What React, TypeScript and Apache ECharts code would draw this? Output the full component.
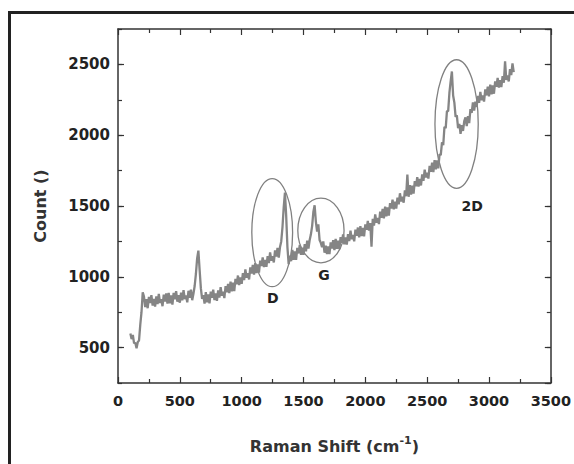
import { useEffect, useRef } from "react";
import * as echarts from "echarts";

const FONT = '"DejaVu Sans", "Liberation Sans", sans-serif';
const INK = "#222";

const xMin = 0;
const xMax = 3500;
const xInterval = 500;
const yMin = 250;
const yMax = 2750;
const yMajor = 500;
const yMinor = 250;

// Raman spectrum: [shift (cm-1), count]
const spectrum: [number, number][] = [
  [100, 600], [110, 560], [120, 590], [130, 530], [140, 535], [150, 495], [160, 540], [170, 550], [180, 660], [190, 750], [200, 890],
  [210, 860], [220, 786], [230, 842], [240, 778], [250, 859], [260, 815], [270, 871], [280, 797], [290, 843], [300, 790],
  [310, 861], [320, 807], [330, 879], [340, 815], [350, 841], [360, 792], [370, 874], [380, 825], [390, 882], [400, 810],
  [410, 886], [420, 812], [430, 868], [440, 804], [450, 886], [460, 842], [470, 898], [480, 824], [490, 871], [500, 817],
  [510, 888], [520, 834], [530, 906], [540, 842], [550, 868], [560, 820], [570, 901], [580, 852], [590, 909], [600, 835],
  [610, 880], [620, 935], [630, 1020], [640, 1130], [650, 1185], [660, 1050], [670, 920], [680, 845], [690, 870],
  [700, 810], [710, 892], [720, 819], [730, 876], [740, 813], [750, 895], [760, 852], [770, 909], [780, 836], [790, 883],
  [800, 830], [810, 904], [820, 853], [830, 927], [840, 866], [850, 895], [860, 850], [870, 935], [880, 890], [890, 950],
  [900, 885], [910, 966], [920, 897], [930, 958], [940, 899], [950, 985], [960, 947], [970, 1009], [980, 941], [990, 995],
  [1000, 950], [1010, 1026], [1020, 977], [1030, 1053], [1040, 994], [1050, 1025], [1060, 981], [1070, 1067], [1080, 1023], [1090, 1084],
  [1100, 1015], [1110, 1096], [1120, 1027], [1130, 1088], [1140, 1029], [1150, 1115], [1160, 1076], [1170, 1137], [1180, 1068], [1190, 1119],
  [1200, 1070], [1210, 1146], [1220, 1097], [1230, 1173], [1240, 1114], [1250, 1145], [1260, 1101], [1270, 1187], [1280, 1143], [1290, 1204],
  [1300, 1135], [1310, 1210], [1320, 1250], [1330, 1350], [1340, 1490], [1350, 1595], [1360, 1430], [1370, 1210], [1380, 1090], [1390, 1150],
  [1400, 1110], [1410, 1190], [1420, 1120], [1430, 1180], [1440, 1120], [1450, 1205], [1460, 1165], [1470, 1225], [1480, 1155], [1490, 1205],
  [1500, 1155], [1510, 1230], [1520, 1180], [1530, 1255], [1540, 1200], [1550, 1260], [1560, 1300], [1570, 1360], [1580, 1460], [1590, 1505],
  [1600, 1390], [1610, 1320], [1620, 1370], [1630, 1260], [1640, 1240], [1650, 1210], [1660, 1250], [1670, 1170], [1680, 1220], [1690, 1160],
  [1700, 1215], [1710, 1160], [1720, 1244], [1730, 1199], [1740, 1258], [1750, 1188], [1760, 1267], [1770, 1197], [1780, 1256], [1790, 1196],
  [1800, 1280], [1810, 1240], [1820, 1299], [1830, 1229], [1840, 1278], [1850, 1228], [1860, 1302], [1870, 1252], [1880, 1326], [1890, 1266],
  [1900, 1295], [1910, 1250], [1920, 1334], [1930, 1289], [1940, 1348], [1950, 1278], [1960, 1357], [1970, 1287], [1980, 1346], [1990, 1286],
  [2000, 1370], [2010, 1332], [2020, 1394], [2030, 1327], [2040, 1379], [2050, 1212], [2060, 1410], [2070, 1362], [2080, 1440], [2090, 1382],
  [2100, 1415], [2110, 1372], [2120, 1460], [2130, 1417], [2140, 1480], [2150, 1412], [2160, 1495], [2170, 1427], [2180, 1490], [2190, 1432],
  [2200, 1520], [2210, 1482], [2220, 1545], [2230, 1477], [2240, 1530], [2250, 1482], [2260, 1560], [2270, 1512], [2280, 1590], [2290, 1532],
  [2300, 1565], [2310, 1523], [2320, 1611], [2330, 1569], [2340, 1722], [2350, 1565], [2360, 1648], [2370, 1581], [2380, 1644], [2390, 1587],
  [2400, 1675], [2410, 1639], [2420, 1703], [2430, 1637], [2440, 1691], [2450, 1645], [2460, 1724], [2470, 1678], [2480, 1757], [2490, 1701],
  [2500, 1735], [2510, 1694], [2520, 1783], [2530, 1742], [2540, 1806], [2550, 1740], [2560, 1824], [2570, 1758], [2580, 1822], [2590, 1766],
  [2600, 1865], [2610, 1860], [2620, 1950], [2630, 1930], [2640, 2060], [2650, 2050], [2660, 2170], [2670, 2170], [2680, 2300], [2690, 2380],
  [2700, 2450], [2710, 2280], [2720, 2230], [2730, 2130], [2740, 2140], [2750, 2050], [2760, 2080], [2770, 2010], [2780, 2070], [2790, 2030],
  [2800, 2100], [2810, 2125], [2820, 2065], [2830, 2135], [2840, 2085], [2850, 2185], [2860, 2158], [2870, 2231], [2880, 2174], [2890, 2237],
  [2900, 2200], [2910, 2277], [2920, 2229], [2930, 2306], [2940, 2248], [2950, 2280], [2960, 2237], [2970, 2324], [2980, 2281], [2990, 2343],
  [3000, 2275], [3010, 2357], [3020, 2289], [3030, 2351], [3040, 2293], [3050, 2380], [3060, 2342], [3070, 2404], [3080, 2336], [3090, 2388],
  [3100, 2340], [3110, 2417], [3120, 2370], [3130, 2522], [3140, 2390], [3150, 2422], [3160, 2380], [3170, 2467], [3180, 2425], [3190, 2507],
  [3200, 2445],
];

// Peak annotations (data units)
const peakNames = ["D", "G", "2D"];
const peakLabelPos: [number, number][] = [[1251, 849], [1666, 1012], [2864, 1499]];
const peakEllipseCenter: [number, number][] = [[1247, 1312], [1641, 1327], [2738, 2079]];
const peakEllipseRadius: [number, number][] = [[165, 382], [187, 228], [175, 454]];

export default function App() {
  const ref = useRef<HTMLDivElement>(null);

  useEffect(() => {
    if (!ref.current) return;
    const chart = echarts.init(ref.current, null, { renderer: "svg" });

    const lineStyle = { color: "#333", width: 1.5 };
    const labelStyle = { fontFamily: FONT, fontWeight: "bold" as const, color: INK };

    const xBase = {
      type: "value" as const,
      min: xMin,
      max: xMax,
      interval: xInterval,
      axisLine: { show: true, onZero: false, lineStyle },
      axisTick: { show: true, inside: true, length: 6, lineStyle: { color: "#333", width: 1.2 } },
      minorTick: { show: true, splitNumber: 2, length: 4, lineStyle: { color: "#333", width: 1.2 } },
      splitLine: { show: false },
      minorSplitLine: { show: false },
    };
    const yMajorBase = {
      type: "value" as const,
      min: yMin,
      max: yMax,
      splitNumber: (yMax - yMin) / yMajor,
      axisLine: { show: true, onZero: false, lineStyle },
      axisTick: { show: true, inside: true, length: 6, lineStyle: { color: "#333", width: 1.2 } },
      splitLine: { show: false },
    };
    const yMinorBase = {
      type: "value" as const,
      min: yMin,
      max: yMax,
      interval: yMinor,
      axisLine: { show: false, onZero: false },
      axisTick: { show: true, inside: true, length: 4, lineStyle: { color: "#333", width: 1.2 } },
      axisLabel: { show: false },
      splitLine: { show: false },
    };

    chart.setOption({
      animation: false,
      grid: { left: 118, right: 21, top: 29, bottom: 81, containLabel: false },
      xAxis: [
        {
          ...xBase,
          position: "bottom",
          axisLabel: { ...labelStyle, fontSize: 14.5, margin: 10, formatter: (v: number) => String(v) },
          name: "{t|Raman Shift (cm}{s|-1}{t|)}",
          nameLocation: "middle",
          nameGap: 52,
          nameTextStyle: {
            rich: {
              t: { fontFamily: FONT, fontWeight: "bold", fontSize: 16, color: "#333", lineHeight: 22 },
              s: { fontFamily: FONT, fontWeight: "bold", fontSize: 11, color: "#333", lineHeight: 11, verticalAlign: "top" },
            },
          },
        },
        { ...xBase, position: "top", axisLabel: { show: false } },
      ],
      yAxis: [
        {
          ...yMajorBase,
          position: "left",
          axisLabel: {
            ...labelStyle,
            fontSize: 15,
            margin: 8,
            showMinLabel: false,
            showMaxLabel: false,
            formatter: (v: number) => (v % yMajor === 0 && v > yMin && v < yMax ? String(v) : ""),
          },
          name: "Count ()",
          nameLocation: "middle",
          nameGap: 70,
          nameTextStyle: { fontFamily: FONT, fontWeight: "bold", fontSize: 16, color: "#333" },
        },
        { ...yMinorBase, position: "left" },
        { ...yMajorBase, position: "right", axisLabel: { show: false } },
        { ...yMinorBase, position: "right" },
      ],
      series: [
        {
          type: "line",
          data: spectrum,
          xAxisIndex: 0,
          yAxisIndex: 0,
          showSymbol: false,
          symbol: "none",
          lineStyle: { color: "#858585", width: 2.3 },
          silent: true,
        },
      ],
    });

    const toPx = (p: [number, number]) =>
      chart.convertToPixel({ xAxisIndex: 0, yAxisIndex: 0 }, p) as number[];

    const graphics: any[] = [
      {
        type: "rect",
        shape: { x: 9.5, y: 12.5, width: 620, height: 520 },
        style: { fill: "none", stroke: "#222", lineWidth: 3 },
        silent: true,
      },
    ];
    peakEllipseCenter.forEach((c, i) => {
      const [cx, cy] = toPx(c);
      const [ex] = toPx([c[0] + peakEllipseRadius[i][0], c[1]]);
      const [, ey] = toPx([c[0], c[1] + peakEllipseRadius[i][1]]);
      graphics.push({
        type: "ellipse",
        shape: { cx, cy, rx: Math.abs(ex - cx), ry: Math.abs(cy - ey) },
        style: { fill: "none", stroke: "#808080", lineWidth: 1.3 },
        silent: true,
      });
    });
    peakNames.forEach((name, i) => {
      const [x, y] = toPx(peakLabelPos[i]);
      graphics.push({
        type: "text",
        x,
        y,
        style: {
          text: name,
          font: `bold 14px ${FONT}`,
          fill: INK,
          textAlign: "center",
          textVerticalAlign: "middle",
        },
        silent: true,
      });
    });
    chart.setOption({ graphic: graphics });

    return () => chart.dispose();
  }, []);

  return (
    <div
      ref={ref}
      style={{ position: "fixed", left: 0, top: 0, width: 574, height: 464, background: "#fff" }}
    />
  );
}
